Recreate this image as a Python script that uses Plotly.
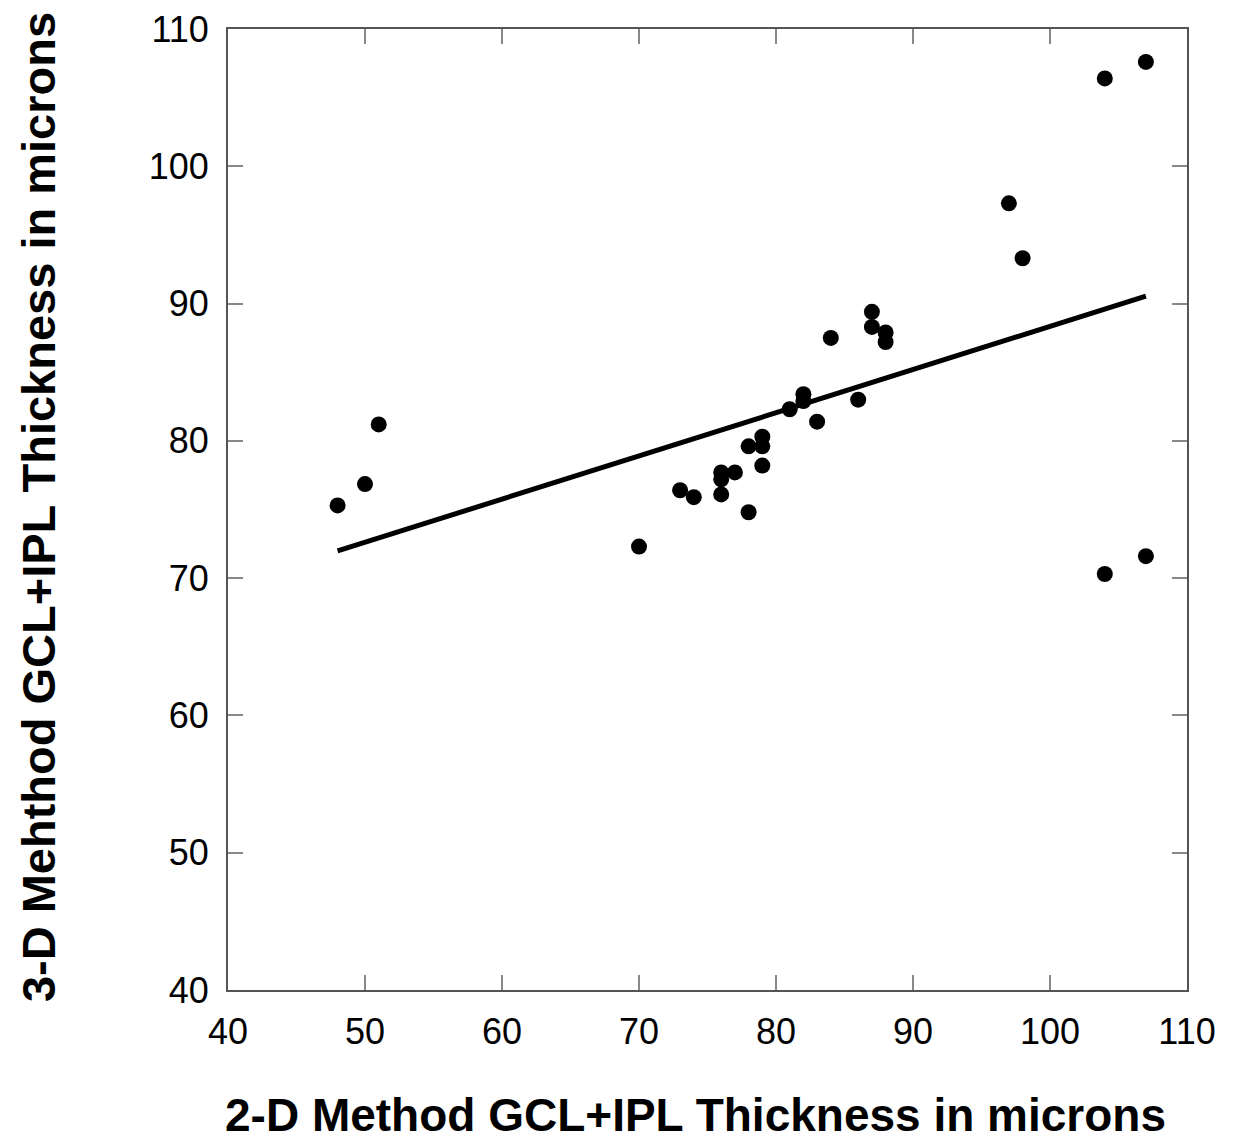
import numpy as np
import plotly.graph_objects as go

x_2d = [48, 50, 51, 70, 73, 74, 76, 76, 76, 77, 78, 78, 79, 79, 79, 81, 82, 82, 83, 84,
        86, 87, 87, 88, 88, 97, 98, 104, 104, 107, 107]
y_3d = [75.3, 76.85, 81.2, 72.3, 76.4, 75.9, 77.7, 77.2, 76.1, 77.7, 74.8, 79.6, 80.3, 79.6, 78.2,
        82.3, 83.4, 82.9, 81.4, 87.5, 83.0, 89.4, 88.3, 87.9, 87.2, 97.3, 93.3, 106.4, 70.3,
        107.6, 71.6]
tick_vals = [40, 50, 60, 70, 80, 90, 100, 110]
x_title = "2-D Method GCL+IPL Thickness in microns"
y_title = "3-D Mehthod GCL+IPL Thickness in microns"

slope, intercept = np.polyfit(x_2d, y_3d, 1)
fit_x = [min(x_2d), max(x_2d)]
fit_y = [slope * v + intercept for v in fit_x]

fig = go.Figure()
fig.add_trace(go.Scatter(x=fit_x, y=fit_y, mode="lines",
                         line=dict(color="black", width=5), showlegend=False))
fig.add_trace(go.Scatter(x=x_2d, y=y_3d, mode="markers",
                         marker=dict(color="black", size=16), showlegend=False))

font_family = "Liberation Sans, Arial, sans-serif"
axis_common = dict(range=[40, 110], tickvals=tick_vals, ticks="inside", ticklen=15,
                   tickwidth=1.5, tickcolor="#888888", showline=True, linecolor="#555555",
                   linewidth=2, mirror="ticks", showgrid=False, zeroline=False,
                   automargin=False,
                   tickfont=dict(family=font_family, size=36, color="black"))

fig.update_layout(
    width=1228, height=1136,
    margin=dict(l=220, r=49, t=21, b=154),
    plot_bgcolor="white", paper_bgcolor="white",
    xaxis=dict(**axis_common, ticklabelstandoff=9),
    yaxis=dict(**axis_common, ticklabelstandoff=10),
    annotations=[
        dict(text="<b>" + x_title + "</b>", xref="paper", yref="paper",
             x=0.487, y=-0.1592, xanchor="center", yanchor="bottom", showarrow=False,
             font=dict(family=font_family, size=46, color="black")),
        dict(text="<b>" + y_title + "</b>", xref="paper", yref="paper",
             x=-0.198, y=0.5026, xanchor="center", yanchor="middle", showarrow=False,
             textangle=-90, font=dict(family=font_family, size=47, color="black")),
    ],
)
fig.write_html("out.html")
